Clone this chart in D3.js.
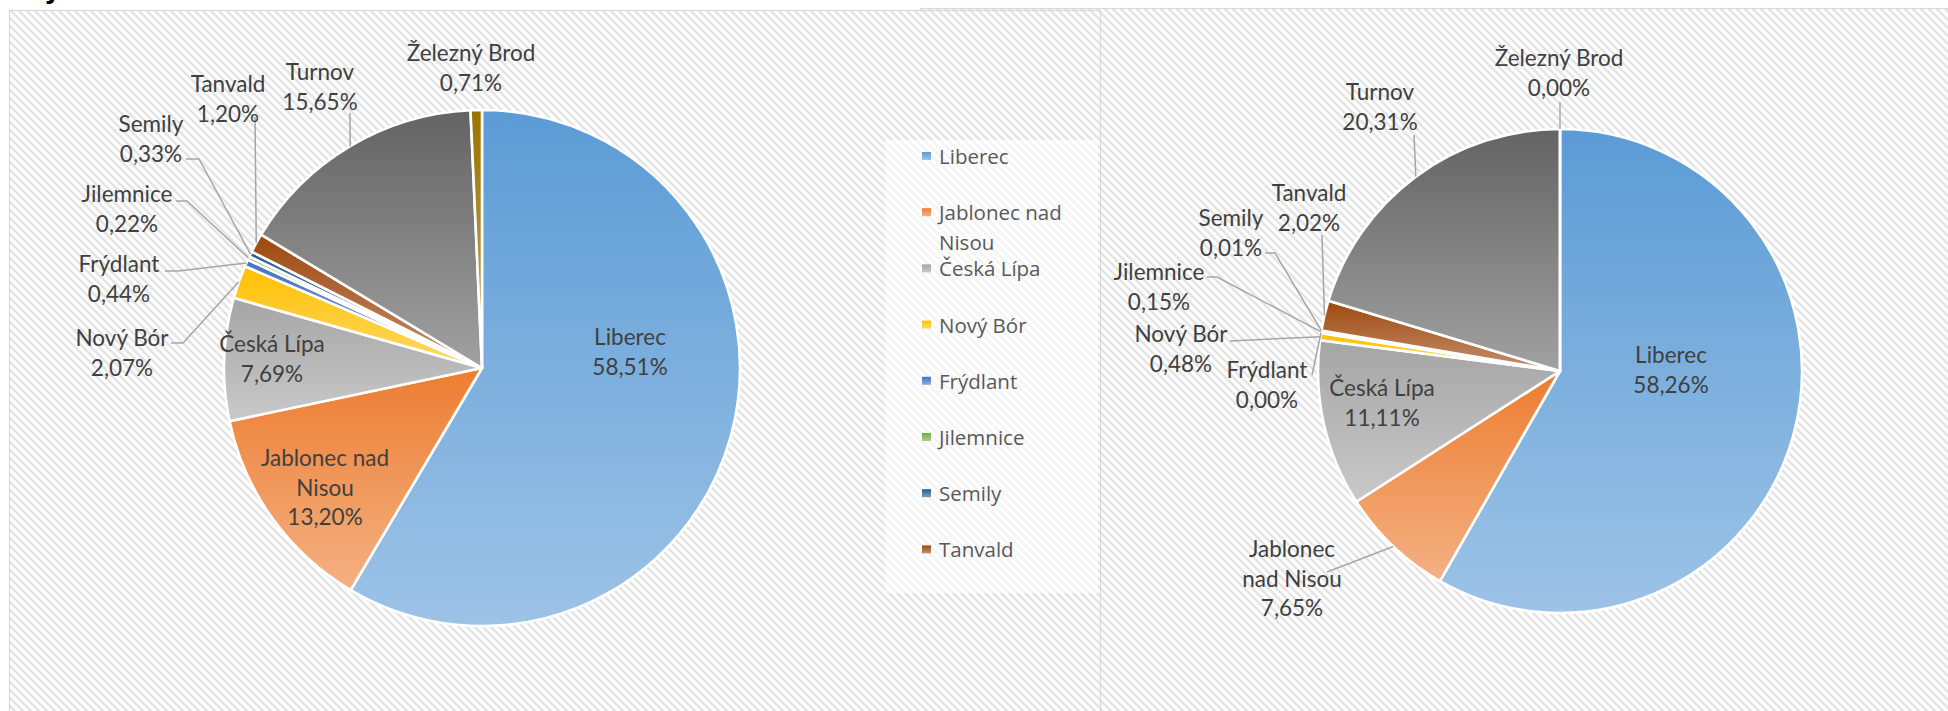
<!DOCTYPE html>
<html>
<head>
<meta charset="utf-8">
<script src="https://cdn.jsdelivr.net/npm/d3@7"></script>
<style>
  html, body { margin: 0; padding: 0; background: #ffffff; }
  svg { display: block; }
</style>
</head>
<body>
<svg id="chart" width="1948" height="711"></svg>
<script>
// Podíl jednotlivých ORP na celku kraje (dva koláčové grafy)
const categories = ["Liberec", "Jablonec nad Nisou", "Česká Lípa", "Nový Bór", "Frýdlant",
                    "Jilemnice", "Semily", "Tanvald", "Turnov", "Železný Brod"];
const valuesLeft  = [58.51, 13.20, 7.69, 2.07, 0.44, 0.22, 0.33, 1.20, 15.65, 0.71];
const valuesRight = [58.26, 7.65, 11.11, 0.48, 0.00, 0.15, 0.01, 2.02, 20.31, 0.00];
const legendItems = ["Liberec", "Jablonec nad Nisou", "Česká Lípa", "Nový Bór", "Frýdlant",
                     "Jilemnice", "Semily", "Tanvald"];

// Office palette
const palette = ["#5B9BD5", "#ED7D31", "#A5A5A5", "#FFC000", "#4472C4",
                 "#70AD47", "#255E91", "#9E480E", "#636363", "#997300"];

// label placement relative to the pie centre; lead = leader-line points before the arc
const layoutLeft = {
  "Liberec":            { dx: 148,  dy: -32,  wrap: ["Liberec"] },
  "Jablonec nad Nisou": { dx: -157, dy: 89,   wrap: ["Jablonec nad", "Nisou"] },
  "Česká Lípa":         { dx: -210, dy: -25,  wrap: ["Česká Lípa"] },
  "Nový Bór":           { dx: -360, dy: -31,  wrap: ["Nový Bór"], lead: [[-311, -25], [-299, -25]] },
  "Frýdlant":           { dx: -363, dy: -105, wrap: ["Frýdlant"], lead: [[-317, -97], [-304, -97]] },
  "Jilemnice":          { dx: -355, dy: -175, wrap: ["Jilemnice"], lead: [[-306, -167], [-295, -167]] },
  "Semily":             { dx: -331, dy: -245, wrap: ["Semily"], lead: [[-296, -209], [-283, -209]] },
  "Tanvald":            { dx: -254, dy: -285, wrap: ["Tanvald"], lead: [[-227, -251]] },
  "Turnov":             { dx: -162, dy: -297, wrap: ["Turnov"], lead: [[-132, -255]] },
  "Železný Brod":       { dx: -11,  dy: -316, wrap: ["Železný Brod"] }
};
const layoutRight = {
  "Liberec":            { dx: 111,  dy: -17,  wrap: ["Liberec"] },
  "Jablonec nad Nisou": { dx: -268, dy: 177,  wrap: ["Jablonec", "nad Nisou"], lead: [[-233, 201]] },
  "Česká Lípa":         { dx: -178, dy: 16,   wrap: ["Česká Lípa"] },
  "Nový Bór":           { dx: -379, dy: -38,  wrap: ["Nový Bór"], lead: [[-330, -30]] },
  "Frýdlant":           { dx: -293, dy: -2,   wrap: ["Frýdlant"], lead: [[-248, 4]] },
  "Jilemnice":          { dx: -401, dy: -100, wrap: ["Jilemnice"], lead: [[-353, -94], [-343, -94]] },
  "Semily":             { dx: -329, dy: -154, wrap: ["Semily"], lead: [[-295, -118], [-285, -118]] },
  "Tanvald":            { dx: -251, dy: -179, wrap: ["Tanvald"], lead: [[-238, -136]] },
  "Turnov":             { dx: -180, dy: -280, wrap: ["Turnov"], lead: [[-146, -236]] },
  "Železný Brod":       { dx: -1,   dy: -314, wrap: ["Železný Brod"], lead: [[0, -269]] }
};

const svg = d3.select("#chart");
const defs = svg.append("defs");

// diagonal hatch used for the chart areas
const hatch = defs.append("pattern")
  .attr("id", "hatch").attr("patternUnits", "userSpaceOnUse")
  .attr("width", 8).attr("height", 8);
hatch.append("rect").attr("width", 8).attr("height", 8).attr("fill", "#ffffff");
hatch.append("path")
  .attr("d", "M-2,-2L10,10M-2,6L2,10M6,-2L10,2")
  .attr("stroke", "#e4e4e4").attr("stroke-width", 2.6).attr("fill", "none");

// vertical gradient per colour: base at top, 40 % lighter at bottom
palette.forEach((c, i) => {
  const g = defs.append("linearGradient").attr("id", "grad" + i)
    .attr("x1", 0).attr("y1", 0).attr("x2", 0).attr("y2", 1);
  g.append("stop").attr("offset", "0%").attr("stop-color", c);
  g.append("stop").attr("offset", "100%").attr("stop-color", d3.interpolateRgb(c, "#ffffff")(0.4));
});

// heading above the charts, mostly outside the visible page
svg.append("text").attr("x", 44).attr("y", -2)
  .attr("font-family", "DejaVu Sans").attr("font-weight", "bold").attr("font-size", 26)
  .attr("fill", "#000").text("y");

// chart areas
svg.append("rect").attr("x", 920.5).attr("y", 8.5).attr("width", 1040).attr("height", 720)
  .attr("fill", "url(#hatch)").attr("stroke", "#d9d9d9").attr("stroke-width", 1.2);
svg.append("rect").attr("x", 9.5).attr("y", 10.5).attr("width", 1091).attr("height", 720)
  .attr("fill", "url(#hatch)").attr("stroke", "#d9d9d9").attr("stroke-width", 1.2);

const fmt = v => v.toFixed(2).replace(".", ",") + "%";
const lineH = 29.5;

function drawPie(values, cx, cy, r, layout) {
  const g = svg.append("g").attr("transform", `translate(${cx},${cy})`);
  const pie = d3.pie().sort(null).value(d => d.v);
  const data = pie(categories.map((c, i) => ({ name: c, v: values[i], i })));
  const arc = d3.arc().innerRadius(0).outerRadius(r);
  const rim = d3.arc().innerRadius(r).outerRadius(r);

  g.selectAll("path.slice").data(data).join("path")
    .attr("class", "slice")
    .attr("d", arc)
    .attr("fill", d => `url(#grad${d.data.i})`)
    .attr("stroke", "#ffffff").attr("stroke-width", 2.6).attr("stroke-linejoin", "round");

  // leader lines to the middle of each slice's rim
  const line = d3.line();
  data.forEach(d => {
    const L = layout[d.data.name];
    if (!L.lead) return;
    const pts = L.lead.concat([rim.centroid(d)]);
    g.append("path").attr("d", line(pts))
      .attr("fill", "none").attr("stroke", "#a6a6a6").attr("stroke-width", 1.5);
  });

  // data labels
  data.forEach(d => {
    const L = layout[d.data.name];
    const lines = L.wrap.concat([fmt(d.data.v)]);
    const t = g.append("text")
      .attr("font-family", "Lato, 'Open Sans', sans-serif")
      .attr("font-size", 22.5).attr("fill", "#404040")
      .attr("text-anchor", "middle").attr("dominant-baseline", "central");
    lines.forEach((s, k) => {
      t.append("tspan").attr("x", L.dx).attr("y", L.dy + k * lineH).text(s);
    });
  });
}

drawPie(valuesLeft, 482, 368, 258, layoutLeft);
drawPie(valuesRight, 1560, 371, 242, layoutRight);

// legend
const lg = svg.append("g");
lg.append("rect").attr("x", 885).attr("y", 140).attr("width", 213).attr("height", 453)
  .attr("fill", "#ffffff").attr("fill-opacity", 0.6);
const ly = d3.scalePoint().domain(legendItems).range([156, 156 + 56.2 * 7]);
legendItems.forEach((name) => {
  const i = categories.indexOf(name);
  const y = ly(name);
  lg.append("rect").attr("x", 922).attr("y", y - 4).attr("width", 9).attr("height", 8)
    .attr("fill", `url(#grad${i})`);
  const words = name === "Jablonec nad Nisou" ? ["Jablonec nad", "Nisou"] : [name];
  const t = lg.append("text").attr("font-family", "'Open Sans', sans-serif")
    .attr("font-size", 20.5).attr("fill", "#595959").attr("dominant-baseline", "central");
  words.forEach((w, k) => t.append("tspan").attr("x", 939).attr("y", y + k * 30).text(w));
});
</script>
</body>
</html>
